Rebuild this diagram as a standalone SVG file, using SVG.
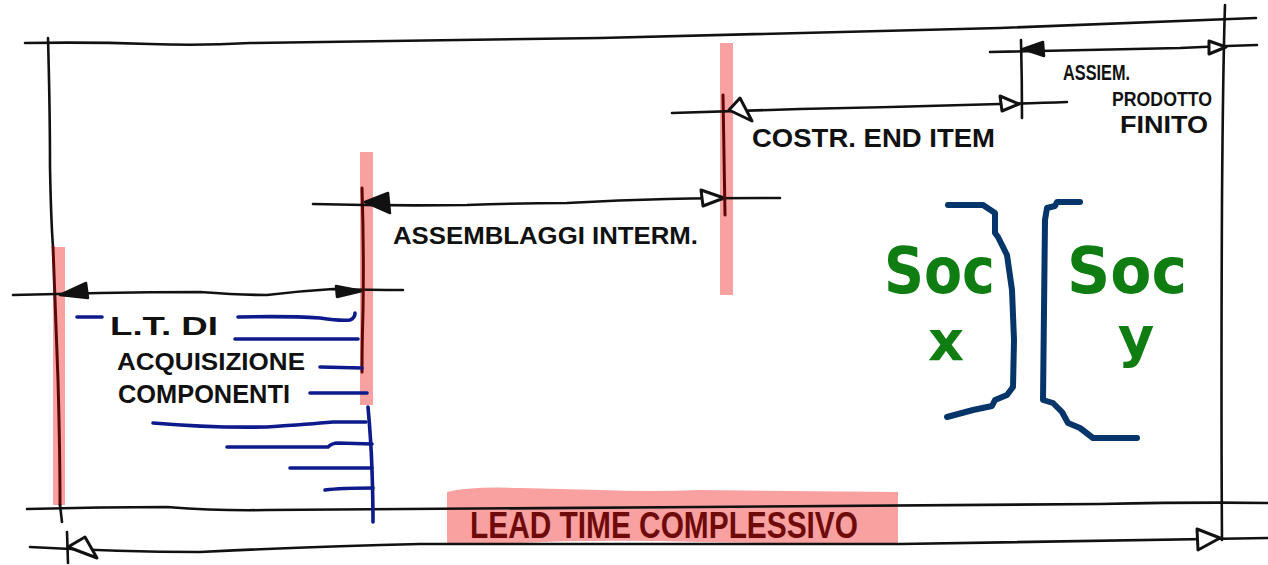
<svg xmlns="http://www.w3.org/2000/svg" width="1268" height="565" viewBox="0 0 1268 565">
<style>
.ln{fill:none;stroke:#111;stroke-width:2.6;stroke-linecap:round;stroke-linejoin:round}
.dk{fill:none;stroke:#5a0808;stroke-width:3;stroke-linecap:round}
.bar{fill:#f9a0a0}
.hf{fill:#111;stroke:#111;stroke-width:2.5;stroke-linejoin:round}
.ho{fill:#fff;stroke:#111;stroke-width:3;stroke-linejoin:round}
.bl{fill:none;stroke:#0c1a8c;stroke-width:3.6;stroke-linecap:round;stroke-linejoin:round}
.br{fill:none;stroke:#06356a;stroke-width:6;stroke-linecap:round;stroke-linejoin:round}
.t{font-family:"Liberation Sans","DejaVu Sans",sans-serif;font-weight:bold;fill:#111}
.g{font-family:"DejaVu Sans","Liberation Sans",sans-serif;font-weight:bold;fill:#0f7d12}
.lt{font-family:"Liberation Sans","DejaVu Sans",sans-serif;font-weight:bold;fill:#6e0a0a}
</style>

<!-- highlight bars -->
<g id="bars">
<rect class="bar" x="53" y="247" width="12" height="258"/>
<rect class="bar" x="360" y="152" width="13" height="253"/>
<rect class="bar" x="720" y="43" width="13" height="252"/>
<path class="bar" d="M447 492 Q470 486 520 488 L600 490 Q650 492 700 490 L898 492 L898 545 L700 542 Q600 539 520 543 L447 545 Z"/>
</g>

<g id="connectors">
<!-- frame -->
<path class="ln" d="M25 43 Q90 42 150 44 Q200 46 250 43 Q400 41 600 38 Q800 33 1000 28 Q1150 22 1256 18"/>
<path class="ln" d="M48 38 Q50 110 50 167 Q51 220 53 247"/>
<path class="dk" d="M53 247 Q56 320 58 380 Q60 450 60 505"/>
<path class="ln" d="M60 505 L62 522"/>
<path class="ln" d="M1225 5 Q1223 67 1222 200 Q1221 400 1222 540"/>
<path class="ln" d="M27 509 Q100 507 167 507 Q220 511 267 510 Q500 508 700 507 Q950 506 1100 504 Q1200 502 1268 503"/>
<path class="ln" d="M30 547 Q120 552 200 552 Q320 546 420 544 Q700 545 900 544 Q1100 541 1268 538"/>
<path class="ln" d="M67 532 L68 563"/>
<polygon class="ho" points="68,547 85,537 97,558"/>
<polygon class="ho" points="1220,538 1197,529 1198,550"/>

<!-- L.T. di acquisizione -->
<path class="ln" d="M13 295 Q60 294 100 293 Q150 292 200 292 Q240 295 267 295 Q300 291 333 289 Q370 290 403 290"/>
<polygon class="hf" points="60,295 86,283 88,298"/>
<polygon class="hf" points="362,291 336,286 337,297"/>
<path class="dk" d="M362 188 Q364 250 363 310 Q362 345 362 372"/>

<!-- assemblaggi intermedi -->
<path class="ln" d="M313 204 Q390 206 467 205 Q520 203 567 203 Q620 200 667 199 Q720 198 780 198"/>
<polygon class="hf" points="365,202 388,193 390,213"/>
<polygon class="ho" points="724,198 701,190 703,206"/>
<path class="dk" d="M723 95 Q724 150 725 215"/>

<!-- costruzione end item -->
<path class="ln" d="M672 113 Q730 111 800 109 Q900 107 1000 104 Q1040 103 1067 102"/>
<polygon class="ho" points="729,110 740,98 752,121"/>
<polygon class="ho" points="1019,104 1000,96 1002,111"/>
<path class="ln" d="M1021 40 Q1022 80 1022 118"/>

<!-- assiemaggio prodotto finito -->
<path class="ln" d="M990 52 Q1100 50 1180 48 Q1220 46 1257 45"/>
<polygon class="hf" points="1023,49 1043,42 1044,56"/>
<polygon class="ho" points="1226,47 1209,41 1209,54"/>
</g>

<!-- blue hatching -->
<g id="hatching">
<path class="bl" d="M77 317 L102 317"/>
<path class="bl" d="M238 317 Q290 316 320 318 Q340 321 350 320 Q355 318 355 313"/>
<path class="bl" d="M235 339 L358 339"/>
<path class="bl" d="M320 367 L362 368"/>
<path class="bl" d="M310 393 L367 393"/>
<path class="bl" d="M153 423 Q210 428 267 427 Q310 424 333 422 L366 422"/>
<path class="bl" d="M227 447 L328 447 Q332 443 338 443 L372 444"/>
<path class="bl" d="M290 468 L372 468"/>
<path class="bl" d="M325 490 Q340 488 373 488"/>
<path class="bl" d="M368 407 Q371 440 372 470 Q373 500 373 522"/>
</g>

<!-- labels -->
<g id="label-lt">
<text class="t" x="110" y="335" font-size="26" textLength="108" lengthAdjust="spacingAndGlyphs">L.T.  DI</text>
<text class="t" x="117" y="370" font-size="24" textLength="188" lengthAdjust="spacingAndGlyphs">ACQUISIZIONE</text>
<text class="t" x="118" y="403" font-size="26" textLength="172" lengthAdjust="spacingAndGlyphs">COMPONENTI</text>
</g>
<g id="label-assemblaggi">
<text class="t" x="393" y="244" font-size="24" textLength="305" lengthAdjust="spacingAndGlyphs">ASSEMBLAGGI  INTERM.</text>
</g>
<g id="label-costr">
<text class="t" x="752" y="147" font-size="26" textLength="243" lengthAdjust="spacingAndGlyphs">COSTR. END ITEM</text>
</g>
<g id="label-assiem">
<text class="t" x="1063" y="80" font-size="22" textLength="67" lengthAdjust="spacingAndGlyphs">ASSIEM.</text>
<text class="t" x="1112" y="106" font-size="20" textLength="100" lengthAdjust="spacingAndGlyphs">PRODOTTO</text>
<text class="t" x="1120" y="133" font-size="24" textLength="88" lengthAdjust="spacingAndGlyphs">FINITO</text>
</g>
<g id="label-leadtime">
<text class="lt" x="470" y="538" font-size="36" textLength="388" lengthAdjust="spacingAndGlyphs">LEAD TIME  COMPLESSIVO</text>
</g>

<!-- Soc x / Soc y -->
<g id="soc-x">
<path class="br" d="M948 205 L983 205 L995 213 L995 233 L998 237 L1007 255 L1012 290 L1014 340 L1013 387 L1007 395 L995 400 L992 406 L973 410 L947 417"/>
<text class="g" x="884" y="293" font-size="64" textLength="111" lengthAdjust="spacingAndGlyphs">Soc</text>
<text class="g" x="946" y="360" font-size="56" text-anchor="middle">x</text>
</g>
<g id="soc-y">
<path class="br" d="M1080 202 L1057 202 L1055 206 L1047 208 L1045 220 L1043 400 L1053 403 L1062 412 L1068 423 L1080 428 L1093 438 L1137 438"/>
<text class="g" x="1067" y="293" font-size="64" textLength="120" lengthAdjust="spacingAndGlyphs">Soc</text>
<text class="g" x="1136" y="356" font-size="56" text-anchor="middle">y</text>
</g>
</svg>
